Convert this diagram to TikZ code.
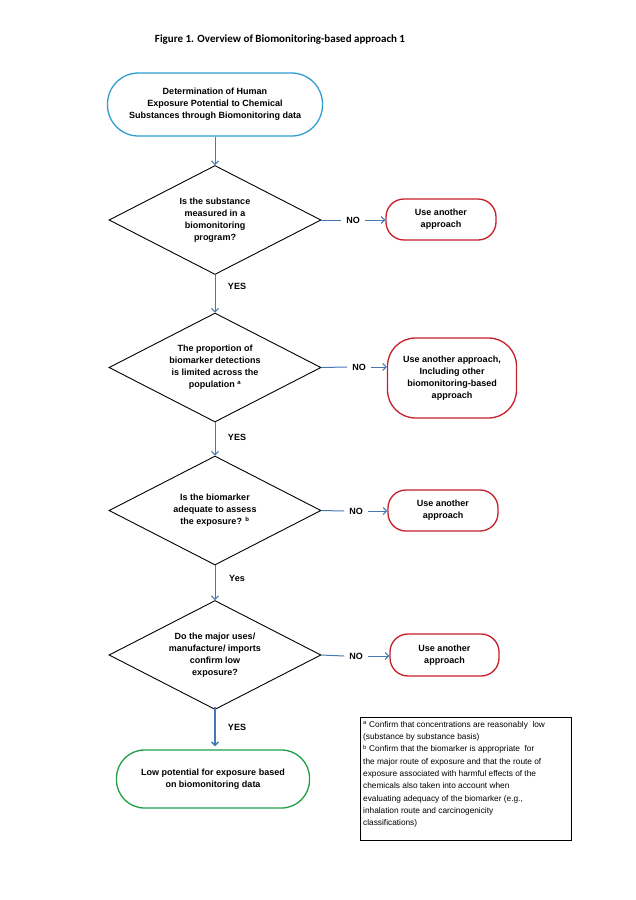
\documentclass[tikz,border=0pt]{standalone}
\usepackage{fontspec}
\setmainfont{Liberation Sans}
\newfontfamily\titlefont{Carlito}
\newfontfamily\notefont{Liberation Sans}
\usetikzlibrary{shapes.geometric,arrows.meta}
\definecolor{startblue}{RGB}{46,158,210}
\definecolor{stopred}{RGB}{200,30,40}
\definecolor{endgreen}{RGB}{30,160,70}
\definecolor{arrowblue}{RGB}{70,120,180}
\begin{document}
\begin{tikzpicture}[x=1pt,y=-1pt,
  every node/.style={font=\fontsize{9}{12}\selectfont\bfseries, align=center, inner sep=0pt},
  decision/.style={diamond, draw=black, line width=0.9pt, minimum width=212pt, minimum height=109pt, aspect=1.94},
  terminal/.style={rectangle, line width=1.3pt, rounded corners=#1},
  startbox/.style={terminal=31pt, draw=startblue, minimum width=215pt, minimum height=63pt},
  stopbox/.style={terminal=18pt, draw=stopred, minimum width=110pt, minimum height=41pt},
  tallstop/.style={terminal=28pt, draw=stopred, minimum width=129pt, minimum height=80pt},
  endbox/.style={terminal=28pt, draw=endgreen, minimum width=193pt, minimum height=58pt},
  lab/.style={inner sep=5pt},
  flow/.style={draw=arrowblue, line width=1pt, -{Straight Barb[length=3.5pt,width=7pt]}},
  link/.style={draw=arrowblue, line width=1pt},
  note/.style={font=\notefont\fontsize{8.3}{12.3}\selectfont, align=left, anchor=north west}]
\useasboundingbox (0,0) rectangle (636,900);
\fill[white] (0,0) rectangle (636,900);

\node (title) at (280,40) {\titlefont\fontsize{11}{13}\selectfont\bfseries Figure 1. Overview of Biomonitoring-based approach 1};

\node[startbox] (start) at (215,104.5) {Determination of Human\\Exposure Potential to Chemical\\Substances through Biomonitoring data};

\node[decision] (d1) at (215,220) {Is the substance\\measured in a\\biomonitoring\\program?};
\node[lab] (no1) at (353,220) {NO};
\node[stopbox] (u1) at (441,219.5) {Use another\\approach};
\node[lab] (yes1) at (237,286) {YES};

\node[decision] (d2) at (215,367.5) {The proportion of\\biomarker detections\\is limited across the\\population \textsuperscript{a}};
\node[lab] (no2) at (359,367) {NO};
\node[tallstop] (u2) at (452,378) {Use another approach,\\Including other\\biomonitoring-based\\approach};
\node[lab] (yes2) at (237,437) {YES};

\node[decision] (d3) at (215,510.5) {Is the biomarker\\adequate to assess\\the exposure? \textsuperscript{b}};
\node[lab] (no3) at (356,511) {NO};
\node[stopbox] (u3) at (443,510.5) {Use another\\approach};
\node[lab] (yes3) at (237,578) {Yes};

\node[decision] (d4) at (215,655) {Do the major uses/\\manufacture/ imports\\confirm low\\exposure?};
\node[lab] (no4) at (356,656) {NO};
\node[stopbox, minimum width=109pt, minimum height=42pt] (u4) at (444.5,655) {Use another\\approach};
\node[lab] (yes4) at (237,727) {YES};

\node[endbox] (end) at (213,779) {Low potential for exposure based\\on biomonitoring data};

\node[draw=black, line width=0.9pt, minimum width=211pt, minimum height=123pt, anchor=north west] (fbox) at (360,717) {};
\node[note] (ftext) at ([xshift=3pt,yshift=-4pt]fbox.north west) {\textsuperscript{a} Confirm that concentrations are reasonably\ \ low\\(substance by substance basis)\\\textsuperscript{b} Confirm that the biomarker is appropriate\ \ for\\the major route of exposure and that the route of\\exposure associated with harmful effects of the\\chemicals also taken into account when\\evaluating adequacy of the biomarker\ (e.g.,\\inhalation route and carcinogenicity\\classifications)};

\draw[flow] (start.south) -- (d1.north);
\draw[flow] (d1.south) -- (d2.north);
\draw[flow] (d2.south) -- (d3.north);
\draw[flow] (d3.south) -- (d4.north);
\draw[flow, line width=1.4pt] ([yshift=3pt]d4.south) -- ([yshift=3pt]d4.south |- end.north);

\draw[link] (d1.east) -- (no1.west);
\draw[flow] (no1.east) -- (no1.east -| u1.west);
\draw[link] (d2.east) -- (no2.west);
\draw[flow] (no2.east) -- (no2.east -| u2.west);
\draw[link] (d3.east) -- (no3.west);
\draw[flow] (no3.east) -- (no3.east -| u3.west);
\draw[link] (d4.east) -- (no4.west);
\draw[flow] (no4.east) -- (no4.east -| u4.west);
\end{tikzpicture}
\end{document}
